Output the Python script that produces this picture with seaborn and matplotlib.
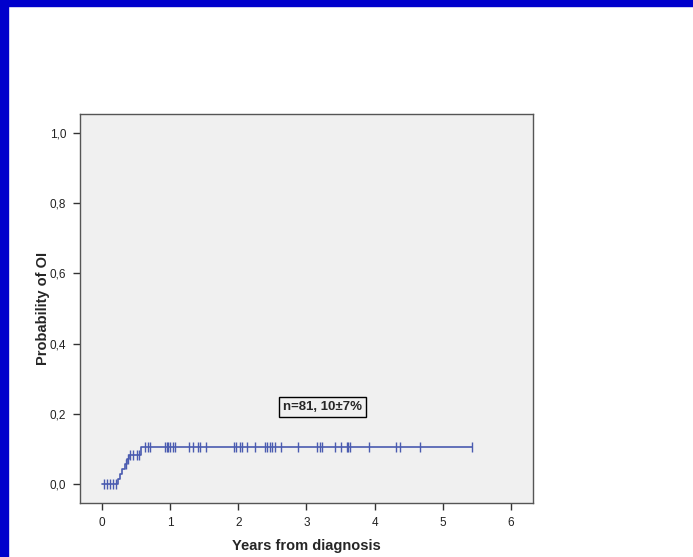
import numpy as np
import pandas as pd
import matplotlib
matplotlib.use("Agg")
import matplotlib.pyplot as plt
from matplotlib.patches import Rectangle
import seaborn as sns

# cumulative incidence steps
event_years = [0.23, 0.27, 0.30, 0.34, 0.37, 0.40, 0.58]
event_prob = [0.014, 0.028, 0.042, 0.056, 0.070, 0.084, 0.105]
last_followup = 5.42

# censored patients (tick marks)
censor_years = [0.03, 0.07, 0.12, 0.16, 0.21, 0.36, 0.38,
                0.41, 0.46, 0.51, 0.55, 0.64, 0.67, 0.70,
                0.92, 0.95, 0.97, 1.00, 1.05, 1.07,
                1.28, 1.34, 1.41, 1.44, 1.53,
                1.94, 1.97, 2.02, 2.06, 2.13, 2.24,
                2.39, 2.42, 2.46, 2.49, 2.54, 2.63, 2.88,
                3.15, 3.20, 3.22, 3.42, 3.50, 3.59, 3.61, 3.64,
                3.92, 4.31, 4.37, 4.66, 5.42]

annotation = "n=81, 10±7%"

line_color = "#4a5bb0"
bg_color = "#f0f0f0"

steps = pd.DataFrame({
    "years": [0.0] + event_years + [last_followup],
    "prob": [0.0] + event_prob + [event_prob[-1]],
})
idx = np.searchsorted(np.array(event_years), np.array(censor_years), side="right")
levels = np.concatenate([[0.0], event_prob])
censored = pd.DataFrame({"years": censor_years, "prob": levels[idx]})

sns.set_style("white")
plt.rcParams["font.family"] = ["Liberation Sans", "DejaVu Sans"]

fig = plt.figure(figsize=(6.93, 5.57), dpi=100)
fig.patches.append(Rectangle((0, 1 - 6 / 557), 1, 6 / 557, transform=fig.transFigure,
                             color="#0000cc", zorder=0))
fig.patches.append(Rectangle((0, 0), 8 / 693, 1, transform=fig.transFigure,
                             color="#0000cc", zorder=0))

ax = fig.add_axes([80 / 693, 54 / 557, 453 / 693, 389 / 557])
ax.set_facecolor(bg_color)

sns.lineplot(data=steps, x="years", y="prob", ax=ax, color=line_color,
             drawstyle="steps-post", linewidth=1.2, estimator=None)
ax.plot(censored["years"], censored["prob"], linestyle="none", marker="|",
        markersize=7, markeredgewidth=1.0, color=line_color)

ax.set_xlim(-0.32, 6.32)
ax.set_ylim(-0.054, 1.054)
ax.set_xticks(range(0, 7))
yt = [0.0, 0.2, 0.4, 0.6, 0.8, 1.0]
ax.set_yticks(yt)
ax.set_yticklabels([f"{v:.1f}".replace(".", ",") for v in yt])

for s in ax.spines.values():
    s.set_color("#555555")
    s.set_linewidth(1.0)
ax.tick_params(axis="both", direction="out", length=5, width=1, color="#333333",
               labelsize=8.5, labelcolor="#222222", bottom=True, left=True, pad=5)

ax.set_xlabel("Years from diagnosis", fontsize=10.5, fontweight="bold", labelpad=7)
ax.set_ylabel("Probability of OI", fontsize=10.5, fontweight="bold", labelpad=0)

ax.text(3.24, 0.22, annotation, fontsize=9.5, fontweight="bold", ha="center", va="center",
        bbox=dict(boxstyle="square,pad=0.3", facecolor=bg_color, edgecolor="black",
                  linewidth=1))

fig.savefig("out.png", dpi=100)
